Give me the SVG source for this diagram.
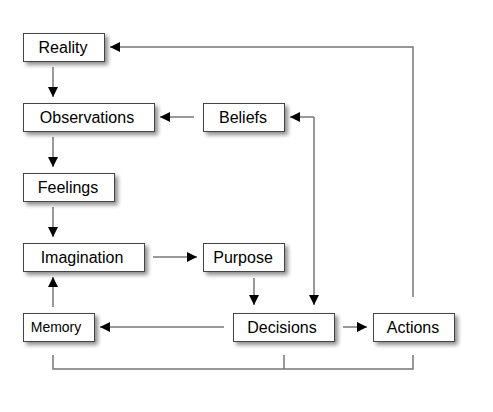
<svg xmlns="http://www.w3.org/2000/svg" width="493" height="412" viewBox="0 0 493 412">
<defs>
<filter id="sh" x="-20%" y="-30%" width="150%" height="180%">
<feGaussianBlur in="SourceAlpha" stdDeviation="2"/>
<feOffset dx="3" dy="3" result="b"/>
<feComponentTransfer><feFuncA type="linear" slope="0.45"/></feComponentTransfer>
<feMerge><feMergeNode/><feMergeNode in="SourceGraphic"/></feMerge>
</filter>
<marker id="ah" viewBox="0 0 10 10" refX="10" refY="5" markerWidth="10" markerHeight="10" markerUnits="userSpaceOnUse" orient="auto">
<path d="M0,0 L10,5 L0,10 Z" fill="#000"/>
</marker>
</defs>
<style>
.box{fill:#fff;stroke:#444;stroke-width:1;filter:url(#sh)}
.lbl{font-family:"Liberation Sans",Arial,sans-serif;font-size:16px;fill:#000;text-anchor:middle}
.c{fill:none;stroke:#777;stroke-width:1.5}
.a{marker-end:url(#ah)}
</style>
<rect width="493" height="412" fill="#fff"/>
<g id="connectors">
<path class="c a" d="M53,67 V97"/>
<path class="c a" d="M413,297 V47 H110"/>
<path class="c a" d="M194,117 H160"/>
<path class="c a" d="M314,117 H290"/>
<path class="c a" d="M314,117 V305"/>
<path class="c a" d="M254,278 V305"/>
<path class="c a" d="M53,137 V167"/>
<path class="c a" d="M53,207 V237"/>
<path class="c a" d="M153,257 H197"/>
<path class="c a" d="M53,307 V277"/>
<path class="c a" d="M224,327 H100"/>
<path class="c a" d="M343,327 H367"/>
<path class="c" d="M53,355 V369 H413 V355 M284,355 V369"/>
</g>
<g id="reality"><rect class="box" x="23.5" y="33.5" width="81" height="28"/><text class="lbl" x="63" y="53">Reality</text></g>
<g id="observations"><rect class="box" x="23.5" y="103.5" width="131" height="28"/><text class="lbl" x="87" y="123">Observations</text></g>
<g id="beliefs"><rect class="box" x="203.5" y="103.5" width="81" height="28"/><text class="lbl" x="243" y="123">Beliefs</text></g>
<g id="feelings"><rect class="box" x="23.5" y="173.5" width="91" height="28"/><text class="lbl" x="68" y="193">Feelings</text></g>
<g id="imagination"><rect class="box" x="23.5" y="243.5" width="121" height="28"/><text class="lbl" x="82" y="263">Imagination</text></g>
<g id="purpose"><rect class="box" x="203.5" y="243.5" width="81" height="28"/><text class="lbl" x="243" y="263">Purpose</text></g>
<g id="memory"><rect class="box" x="23.5" y="313.5" width="71" height="28"/><text class="lbl" x="56" y="332" style="font-size:14px">Memory</text></g>
<g id="decisions"><rect class="box" x="233.5" y="313.5" width="101" height="28"/><text class="lbl" x="282" y="333">Decisions</text></g>
<g id="actions"><rect class="box" x="373.5" y="313.5" width="81" height="28"/><text class="lbl" x="413" y="333">Actions</text></g>
</svg>
